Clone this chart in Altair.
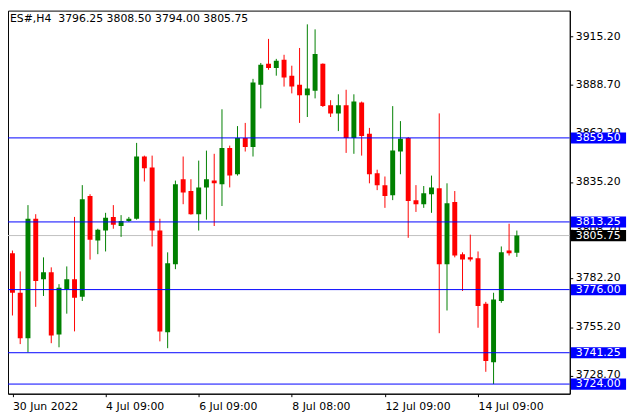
import altair as alt
import pandas as pd

# ---- data (ES#, H4 candles) ----
opens = [3796.0, 3774.25, 3749.25, 3815.0, 3781.75, 3785.5, 3751.25, 3776.25, 3781.75, 3772.0,
         3827.5, 3803.0, 3808.5, 3816.0, 3811.0, 3813.75, 3815.0, 3849.25, 3843.25, 3808.5,
         3752.5, 3790.0, 3836.75, 3830.25, 3817.5, 3832.25, 3836.0, 3834.0, 3854.0, 3839.5,
         3859.5, 3854.5, 3888.75, 3900.25, 3898.0, 3902.5, 3893.75, 3888.75, 3883.0, 3885.5,
         3900.25, 3877.5, 3873.0, 3877.5, 3859.5, 3879.0, 3861.75, 3840.0, 3833.5, 3828.0,
         3852.0, 3859.5, 3825.25, 3823.0, 3828.5, 3831.75, 3790.0, 3824.25, 3795.5, 3793.75,
         3793.25, 3768.25, 3736.0, 3769.75, 3797.5, 3796.25]
highs = [3797.5, 3786.0, 3822.5, 3817.5, 3793.75, 3788.25, 3779.0, 3788.75, 3816.0, 3833.5,
         3828.5, 3809.5, 3818.25, 3822.5, 3817.0, 3816.0, 3856.75, 3849.75, 3849.75, 3815.0,
         3796.5, 3836.0, 3849.25, 3836.75, 3847.0, 3852.5, 3850.75, 3875.25, 3855.25, 3866.0,
         3867.75, 3892.0, 3900.75, 3914.0, 3903.0, 3905.25, 3899.25, 3909.0, 3922.0, 3919.25,
         3900.5, 3880.25, 3883.5, 3886.0, 3883.5, 3879.5, 3865.0, 3842.0, 3838.25, 3877.0,
         3868.75, 3860.0, 3833.5, 3833.0, 3838.75, 3873.0, 3834.5, 3830.25, 3796.5, 3806.25,
         3797.0, 3769.25, 3774.25, 3799.75, 3812.25, 3808.5]
lows = [3761.75, 3746.0, 3741.5, 3766.5, 3772.5, 3746.5, 3744.25, 3762.75, 3753.0, 3769.75,
        3792.5, 3795.5, 3797.0, 3809.5, 3805.0, 3813.25, 3814.5, 3835.5, 3799.75, 3747.5,
        3743.75, 3787.25, 3823.0, 3817.25, 3808.5, 3814.5, 3811.0, 3822.0, 3832.25, 3838.75,
        3852.0, 3849.25, 3875.75, 3897.0, 3893.75, 3887.75, 3884.0, 3867.75, 3871.0, 3881.25,
        3876.5, 3871.0, 3863.25, 3851.25, 3850.75, 3849.75, 3834.5, 3830.75, 3821.0, 3825.25,
        3839.5, 3804.5, 3818.75, 3821.0, 3818.25, 3752.0, 3764.5, 3793.75, 3775.25, 3791.5,
        3755.0, 3730.75, 3724.0, 3768.75, 3794.75, 3794.0]
closes = [3774.25, 3749.25, 3815.0, 3780.75, 3785.5, 3750.75, 3777.0, 3781.75, 3771.5, 3825.75,
          3803.5, 3809.0, 3815.5, 3811.75, 3813.75, 3815.0, 3849.25, 3842.75, 3808.5, 3753.0,
          3790.5, 3834.0, 3829.5, 3817.5, 3832.25, 3836.75, 3834.5, 3854.0, 3838.75, 3859.5,
          3854.5, 3890.0, 3899.75, 3898.0, 3902.0, 3892.75, 3887.75, 3883.0, 3886.75, 3905.75,
          3877.0, 3873.0, 3877.5, 3859.5, 3879.5, 3860.5, 3839.5, 3833.5, 3827.5, 3852.5,
          3859.0, 3824.75, 3823.0, 3829.0, 3832.25, 3790.0, 3823.5, 3794.75, 3792.5, 3792.5,
          3767.0, 3736.75, 3770.5, 3796.5, 3796.0, 3805.75]

level_prices = [3859.5, 3813.25, 3776.0, 3741.25, 3724.0]
bid_price = 3805.75
y_ticks = [3915.2, 3888.7, 3862.2, 3835.2, 3808.7, 3782.2, 3755.2, 3728.7]
x_tick_idx = [0, 12, 24, 36, 48, 60]
x_tick_labels = ["30 Jun 2022", "4 Jul 09:00", "6 Jul 09:00", "8 Jul 08:00",
                 "12 Jul 09:00", "14 Jul 09:00"]
header = "ES#,H4\u00a0\u00a03796.25 3808.50 3794.00 3805.75"

# ---- tables ----
df = pd.DataFrame({"idx": list(range(len(opens))), "open": opens, "high": highs,
                   "low": lows, "close": closes})
df["dir"] = ["up" if c >= o else "down" for o, c in zip(opens, closes)]
lev_df = pd.DataFrame({"price": level_prices})
bid_df = pd.DataFrame({"price": [bid_price]})
lab_df = pd.DataFrame({"price": level_prices + [bid_price]})
tick_df = pd.DataFrame({"price": y_ticks})
hdr_df = pd.DataFrame({"t": [header]})

W, H = 569, 388
FONT = "DejaVu Sans"
xs = alt.Scale(domain=[0.0625, 0.0625 + W / 8], nice=False, zero=False)
ys = alt.Scale(domain=[3718.7, 3718.7 + H / 1.84], nice=False, zero=False)

label_expr = ("[" + ",".join("'%s'" % s for s in x_tick_labels) + "][indexof(["
              + ",".join(str(v) for v in x_tick_idx) + "], datum.value)]")

xaxis = alt.Axis(values=x_tick_idx, labelExpr=label_expr, title=None, grid=False,
                 tickSize=3, labelPadding=4, labelAlign="left", labelBaseline="top",
                 labelFont=FONT, labelFontSize=11, labelColor="black", tickColor="black",
                 domainColor="black", labelOverlap=False, labelFlush=False,
                 labelBound=False)
yaxis = alt.Axis(orient="right", values=y_ticks, labels=False, title=None, grid=False,
                 tickSize=3, tickColor="black", domainColor="black")

color = alt.Color("dir:N", scale=alt.Scale(domain=["up", "down"],
                                           range=["#008000", "#ff0000"]), legend=None)

base = alt.Chart(df)
bidline = alt.Chart(bid_df).mark_rule(color="#c0c0c0", strokeWidth=1, clip=True).encode(
    y=alt.Y("price:Q", scale=ys, axis=yaxis))
wicks = base.mark_rule(strokeWidth=1, clip=True).encode(
    x=alt.X("idx:Q", scale=xs, axis=xaxis),
    y=alt.Y("low:Q", scale=ys, axis=yaxis), y2="high:Q", color=color)
bodies = base.mark_bar(size=5, clip=True).encode(
    x=alt.X("idx:Q", scale=xs, axis=xaxis),
    y=alt.Y("open:Q", scale=ys, axis=yaxis), y2="close:Q", color=color)
levels = alt.Chart(lev_df).mark_rule(color="#0000ff", strokeWidth=1, clip=True).encode(
    y=alt.Y("price:Q", scale=ys, axis=yaxis))

# y tick labels as text (so the price boxes can cover them)
ytick_text = alt.Chart(tick_df).mark_text(align="left", baseline="middle", color="black",
                                          font=FONT, fontSize=11).encode(
    x=alt.value(W + 6), y=alt.Y("price:Q", scale=ys, axis=yaxis),
    text=alt.Text("price:Q", format=".2f"))

level_boxes = alt.Chart(lev_df).transform_calculate(
    top="datum.price + 3.0", bot="datum.price - 3.1"
).mark_rect(color="#0000ff").encode(
    x=alt.value(W + 1), x2=alt.value(W + 57),
    y=alt.Y("top:Q", scale=ys, axis=yaxis), y2="bot:Q")
bid_box = alt.Chart(bid_df).transform_calculate(
    top="datum.price + 3.0", bot="datum.price - 3.1"
).mark_rect(color="#000000").encode(
    x=alt.value(W + 1), x2=alt.value(W + 57),
    y=alt.Y("top:Q", scale=ys, axis=yaxis), y2="bot:Q")
box_text = alt.Chart(lab_df).mark_text(align="left", baseline="middle", color="white",
                                       font=FONT, fontSize=11).encode(
    x=alt.value(W + 6), y=alt.Y("price:Q", scale=ys, axis=yaxis),
    text=alt.Text("price:Q", format=".2f"))
hdr = alt.Chart(hdr_df).mark_text(align="left", baseline="alphabetic", font=FONT,
                                  fontSize=11, color="black").encode(
    x=alt.value(2), y=alt.value(12), text="t:N")

chart = alt.layer(bidline, wicks, bodies, levels, ytick_text, level_boxes, bid_box,
                  box_text, hdr).properties(
    width=W, height=H,
    padding={"left": 0, "top": 0, "right": 63, "bottom": 24},
    autosize=alt.AutoSizeParams(type="none"),
    background="white",
).configure_view(stroke="black", strokeWidth=1)

chart.save("out.html", embed_options={"renderer": "svg", "actions": False})
